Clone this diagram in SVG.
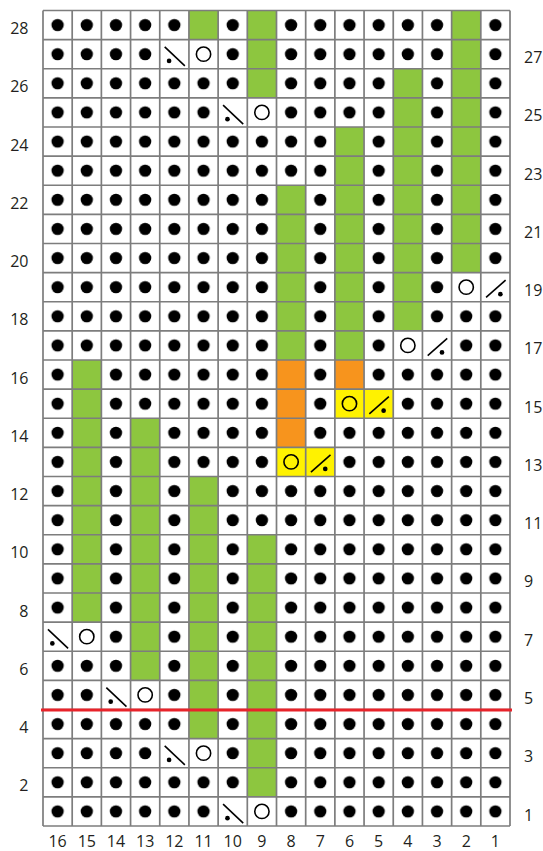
<svg xmlns="http://www.w3.org/2000/svg" xmlns:xlink="http://www.w3.org/1999/xlink" width="543" height="851" viewBox="0 0 543 851">
<style>
.lbl{font-family:"Open Sans","Liberation Sans",sans-serif;font-size:16px;fill:#231f20}
.l{text-anchor:end}
.r{text-anchor:start}
.b{text-anchor:middle}
.g{fill:#8dc63f}
.o{fill:#f7941d}
.y{fill:#fff200}
.w{fill:#fff}
.ln{fill:none;stroke:#000;stroke-width:1.6;vector-effect:non-scaling-stroke}
.grid{fill:none;stroke:#7d7d7d;stroke-width:1.7;vector-effect:non-scaling-stroke}
</style>
<defs>
<pattern id="dots" patternUnits="userSpaceOnUse" x="0" y="0" width="1" height="1">
<rect width="1" height="1" fill="#fff"/>
<circle cx="0.5" cy="0.5" r="0.21" fill="#000"/>
</pattern>
<g id="O"><circle class="ln" cx="0.5" cy="0.5" r="0.245"/></g>
<g id="K"><line class="ln" x1="0.17" y1="0.25" x2="0.86" y2="0.9"/><circle cx="0.32" cy="0.73" r="0.08" fill="#000"/></g>
<g id="R"><line class="ln" x1="0.18" y1="0.85" x2="0.85" y2="0.26"/><circle cx="0.67" cy="0.74" r="0.08" fill="#000"/></g>
</defs>
<rect width="543" height="851" fill="#fff"/>
<g id="chart" transform="translate(43,10.5) scale(29.1875,29.125)">
<rect id="purl-ground" x="0" y="0" width="16" height="28" fill="url(#dots)"/>
<g id="knit-cells">
<rect class="g" x="5" y="0" width="1" height="1"/>
<rect class="g" x="5" y="16" width="1" height="9"/>
<rect class="g" x="7" y="0" width="1" height="3"/>
<rect class="g" x="7" y="18" width="1" height="9"/>
<rect class="g" x="14" y="0" width="1" height="9"/>
<rect class="g" x="12" y="2" width="1" height="9"/>
<rect class="g" x="10" y="4" width="1" height="8"/>
<rect class="g" x="8" y="6" width="1" height="6"/>
<rect class="g" x="1" y="12" width="1" height="9"/>
<rect class="g" x="3" y="14" width="1" height="9"/>
</g>
<g id="orange-cells">
<rect class="o" x="8" y="12" width="1" height="3"/>
<rect class="o" x="10" y="12" width="1" height="1"/>
</g>
<g id="yellow-cells">
<rect class="y" x="10" y="13" width="2" height="1"/>
<rect class="y" x="8" y="15" width="2" height="1"/>
</g>
<g id="symbol-cells">
<rect class="w" x="4" y="1" width="2" height="1"/>
<rect class="w" x="6" y="3" width="2" height="1"/>
<rect class="w" x="14" y="9" width="2" height="1"/>
<rect class="w" x="12" y="11" width="2" height="1"/>
<rect class="w" x="0" y="21" width="2" height="1"/>
<rect class="w" x="2" y="23" width="2" height="1"/>
<rect class="w" x="4" y="25" width="2" height="1"/>
<rect class="w" x="6" y="27" width="2" height="1"/>
</g>
<path id="grid" class="grid" d="M0 0V28M1 0V28M2 0V28M3 0V28M4 0V28M5 0V28M6 0V28M7 0V28M8 0V28M9 0V28M10 0V28M11 0V28M12 0V28M13 0V28M14 0V28M15 0V28M16 0V28M0 0H16M0 1H16M0 2H16M0 3H16M0 4H16M0 5H16M0 6H16M0 7H16M0 8H16M0 9H16M0 10H16M0 11H16M0 12H16M0 13H16M0 14H16M0 15H16M0 16H16M0 17H16M0 18H16M0 19H16M0 20H16M0 21H16M0 22H16M0 23H16M0 24H16M0 25H16M0 26H16M0 27H16M0 28H16"/>
<g id="symbols">
<use href="#K" x="4" y="1"/><use href="#O" x="5" y="1"/>
<use href="#K" x="6" y="3"/><use href="#O" x="7" y="3"/>
<use href="#O" x="14" y="9"/><use href="#R" x="15" y="9"/>
<use href="#O" x="12" y="11"/><use href="#R" x="13" y="11"/>
<use href="#O" x="10" y="13"/><use href="#R" x="11" y="13"/>
<use href="#O" x="8" y="15"/><use href="#R" x="9" y="15"/>
<use href="#K" x="0" y="21"/><use href="#O" x="1" y="21"/>
<use href="#K" x="2" y="23"/><use href="#O" x="3" y="23"/>
<use href="#K" x="4" y="25"/><use href="#O" x="5" y="25"/>
<use href="#K" x="6" y="27"/><use href="#O" x="7" y="27"/>
</g>
</g>
<line id="red-line" x1="41" y1="710" x2="512" y2="710" stroke="#e8232a" stroke-width="2.8"/>
<g id="row-labels-left" class="lbl l">
<text x="28.5" y="34.06">28</text>
<text x="28.5" y="92.31">26</text>
<text x="28.5" y="150.56">24</text>
<text x="28.5" y="208.81">22</text>
<text x="28.5" y="267.06">20</text>
<text x="28.5" y="325.31">18</text>
<text x="28.5" y="383.56">16</text>
<text x="28.5" y="441.81">14</text>
<text x="28.5" y="500.06">12</text>
<text x="28.5" y="558.31">10</text>
<text x="28.5" y="616.56">8</text>
<text x="28.5" y="674.81">6</text>
<text x="28.5" y="733.06">4</text>
<text x="28.5" y="791.31">2</text>
</g>
<g id="row-labels-right" class="lbl r">
<text x="524" y="63.19">27</text>
<text x="524" y="121.44">25</text>
<text x="524" y="179.69">23</text>
<text x="524" y="237.94">21</text>
<text x="524" y="296.19">19</text>
<text x="524" y="354.44">17</text>
<text x="524" y="412.69">15</text>
<text x="524" y="470.94">13</text>
<text x="524" y="529.19">11</text>
<text x="524" y="587.44">9</text>
<text x="524" y="645.69">7</text>
<text x="524" y="703.94">5</text>
<text x="524" y="762.19">3</text>
<text x="524" y="821">1</text>
</g>
<g id="column-labels" class="lbl b">
<text x="57.59" y="846.8">16</text>
<text x="86.78" y="846.8">15</text>
<text x="115.97" y="846.8">14</text>
<text x="145.16" y="846.8">13</text>
<text x="174.34" y="846.8">12</text>
<text x="203.53" y="846.8">11</text>
<text x="232.72" y="846.8">10</text>
<text x="261.91" y="846.8">9</text>
<text x="291.09" y="846.8">8</text>
<text x="320.28" y="846.8">7</text>
<text x="349.47" y="846.8">6</text>
<text x="378.66" y="846.8">5</text>
<text x="407.84" y="846.8">4</text>
<text x="437.03" y="846.8">3</text>
<text x="466.22" y="846.8">2</text>
<text x="495.41" y="846.8">1</text>
</g>
</svg>
